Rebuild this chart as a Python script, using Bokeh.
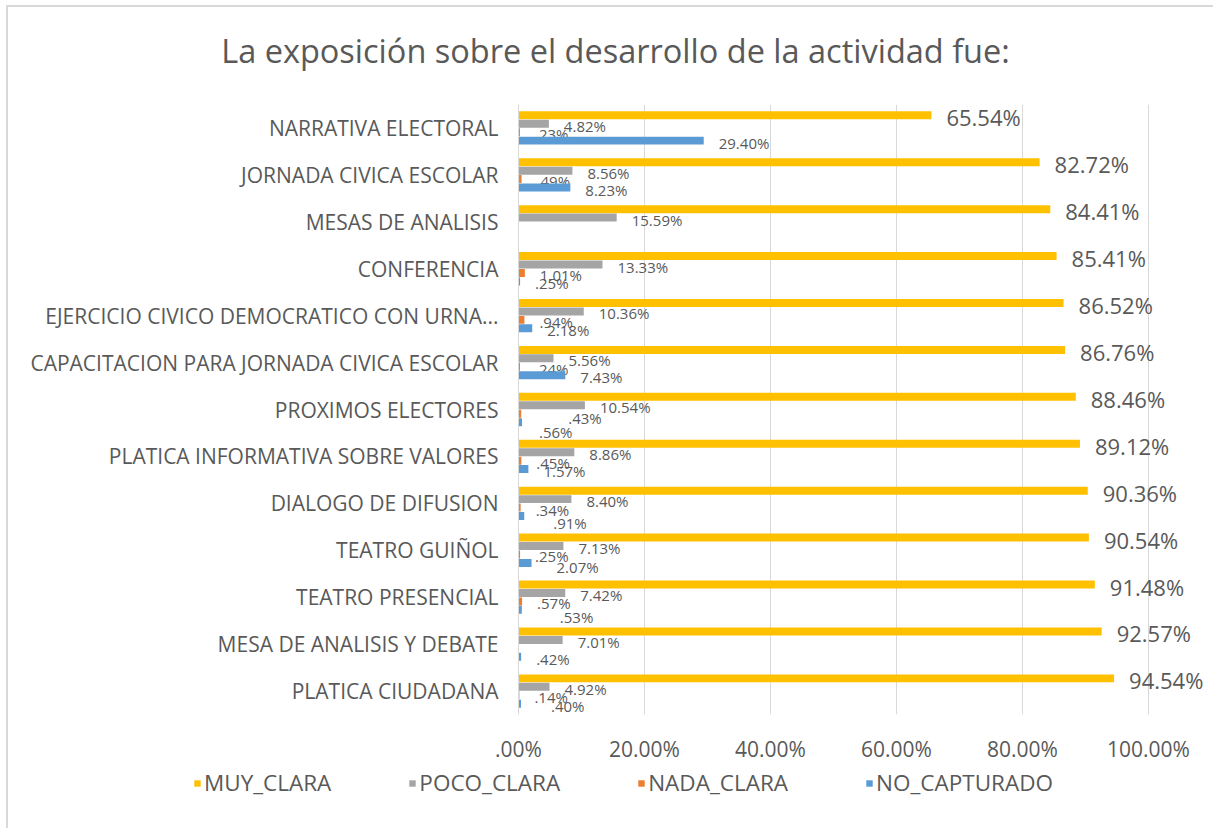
from bokeh.plotting import figure
from bokeh.layouts import column
from bokeh.models import (ColumnDataSource, FactorRange, FixedTicker, Legend, LegendItem, Label)
from bokeh.transform import dodge
from bokeh.core.properties import value
from bokeh.embed import file_html
from bokeh.resources import INLINE

title_text = "La exposición sobre el desarrollo de la actividad fue:"

categories = [
    "NARRATIVA ELECTORAL",
    "JORNADA CIVICA ESCOLAR",
    "MESAS DE ANALISIS",
    "CONFERENCIA",
    "EJERCICIO CIVICO DEMOCRATICO CON URNA...",
    "CAPACITACION PARA JORNADA CIVICA ESCOLAR",
    "PROXIMOS ELECTORES",
    "PLATICA INFORMATIVA SOBRE VALORES",
    "DIALOGO DE DIFUSION",
    "TEATRO GUIÑOL",
    "TEATRO PRESENCIAL",
    "MESA DE ANALISIS Y DEBATE",
    "PLATICA CIUDADANA",
]
muy_clara = [65.54, 82.72, 84.41, 85.41, 86.52, 86.76, 88.46, 89.12, 90.36, 90.54, 91.48, 92.57, 94.54]
poco_clara = [4.82, 8.56, 15.59, 13.33, 10.36, 5.56, 10.54, 8.86, 8.40, 7.13, 7.42, 7.01, 4.92]
nada_clara = [0.23, 0.49, None, 1.01, 0.94, 0.24, 0.43, 0.45, 0.34, 0.25, 0.57, None, 0.14]
no_capturado = [29.40, 8.23, None, 0.25, 2.18, 7.43, 0.56, 1.57, 0.91, 2.07, 0.53, 0.42, 0.40]

series_names = ["MUY_CLARA", "POCO_CLARA", "NADA_CLARA", "NO_CAPTURADO"]
series_colors = ["#FFC000", "#A5A5A5", "#ED7D31", "#5B9BD5"]

x_ticks = [0, 20, 40, 60, 80, 100]
x_tick_labels = [".00%", "20.00%", "40.00%", "60.00%", "80.00%", "100.00%"]

# label placement tweaks (pixels) for the few data labels that the original moved aside
label_nudges = {
    ("NADA_CLARA", "PROXIMOS ELECTORES"): (32, 2),
    ("NO_CAPTURADO", "PROXIMOS ELECTORES"): (2, 8),
    ("NO_CAPTURADO", "DIALOGO DE DIFUSION"): (14, 5),
    ("NO_CAPTURADO", "TEATRO GUIÑOL"): (10, 2),
    ("NO_CAPTURADO", "TEATRO PRESENCIAL"): (23, 5),
    ("NO_CAPTURADO", "PLATICA CIUDADANA"): (15, 0),
}


def fmt(v):
    if v is None:
        return ""
    s = f"{v:.2f}%"
    if s.startswith("0."):
        s = s[1:]
    return s


FONT = "Open Sans"
GRAY_TXT = "#595959"
W = 1205


def blank_fig(h):
    f = figure(width=W, height=h, x_range=(0, 1), y_range=(0, 1),
               x_axis_type=None, y_axis_type=None,
               output_backend="svg", toolbar_location=None,
               min_border_left=0, min_border_right=0, min_border_top=0, min_border_bottom=0)
    f.outline_line_color = None
    f.xgrid.visible = False
    f.ygrid.visible = False
    try:
        f.frame_align = False
    except Exception:
        pass
    return f


# ---- header with the title ----
header = blank_fig(90)
header.add_layout(Label(x=607, y=47, x_units="screen", y_units="screen", text=title_text,
                        text_align="center", text_baseline="middle",
                        text_font=FONT, text_font_size="32.5px", text_color=GRAY_TXT))

# ---- main chart ----
p = figure(
    width=W, height=669,
    y_range=FactorRange(*reversed(categories)),
    x_range=(0, 110.32),
    output_backend="svg", toolbar_location=None,
    min_border_left=510, min_border_right=0, min_border_top=7, min_border_bottom=52,
)
p.outline_line_color = None

offsets = [0.27, 0.09, -0.09, -0.27]
all_series = [muy_clara, poco_clara, nada_clara, no_capturado]
for i, (name, vals, col, off) in enumerate(zip(series_names, all_series, series_colors, offsets)):
    dx = [15 + label_nudges.get((name, c), (0, 0))[0] for c in categories]
    dy = [2 + label_nudges.get((name, c), (0, 0))[1] for c in categories]
    src = ColumnDataSource(dict(
        cat=categories,
        v=[0 if v is None else v for v in vals],
        lbl=[fmt(v) for v in vals],
        dx=dx, dy=dy,
    ))
    p.hbar(y=dodge("cat", off, range=p.y_range), right="v", left=0, height=0.17,
           source=src, fill_color=col, line_color=None)
    big = (i == 0)
    p.text(x="v", y=dodge("cat", off, range=p.y_range), text="lbl", source=src,
           x_offset="dx", y_offset="dy",
           text_font=value(FONT), text_font_size="22px" if big else "15px",
           text_color=GRAY_TXT, text_baseline="middle", text_align="left")

p.yaxis.axis_line_color = "#d9d9d9"
p.yaxis.major_tick_line_color = None
p.yaxis.minor_tick_line_color = None
p.yaxis.major_tick_out = 0
p.yaxis.minor_tick_out = 0
p.yaxis.major_label_text_font = FONT
p.yaxis.major_label_text_font_size = "21px"
p.yaxis.major_label_text_color = GRAY_TXT
p.yaxis.major_label_standoff = 20

p.xaxis.ticker = FixedTicker(ticks=x_ticks)
p.xaxis.major_label_overrides = {t: l for t, l in zip(x_ticks, x_tick_labels)}
p.xaxis.axis_line_color = None
p.xaxis.major_tick_line_color = None
p.xaxis.minor_tick_line_color = None
p.xaxis.major_tick_out = 0
p.xaxis.minor_tick_out = 0
p.xaxis.major_label_text_font = FONT
p.xaxis.major_label_text_font_size = "21px"
p.xaxis.major_label_text_color = GRAY_TXT
p.xaxis.major_label_standoff = 20

p.xgrid.ticker = FixedTicker(ticks=x_ticks)
p.xgrid.grid_line_color = "#d9d9d9"
p.ygrid.grid_line_color = None

# ---- footer with the legend ----
footer = blank_fig(62)
proxies = []
for col in series_colors:
    proxies.append(footer.hbar(y=[0.0], right=[0.0], left=[0.0], height=0.01,
                               fill_color=col, line_color=None))
legend = Legend(
    items=[LegendItem(label=n, renderers=[r]) for n, r in zip(series_names, proxies)],
    orientation="horizontal", location=(185, 30),
    border_line_color=None, background_fill_alpha=0,
    glyph_width=8, glyph_height=8, label_standoff=3, spacing=77,
    padding=0, margin=0,
    label_text_font=FONT, label_text_font_size="22.5px", label_text_color=GRAY_TXT,
)
footer.add_layout(legend, "center")

layout = column(header, p, footer, spacing=0,
                styles={"border-left": "2px solid #d9d9d9", "border-top": "2px solid #d9d9d9",
                        "margin-left": "6px", "margin-top": "5px"})

open("out.html", "w").write(file_html(layout, INLINE))
